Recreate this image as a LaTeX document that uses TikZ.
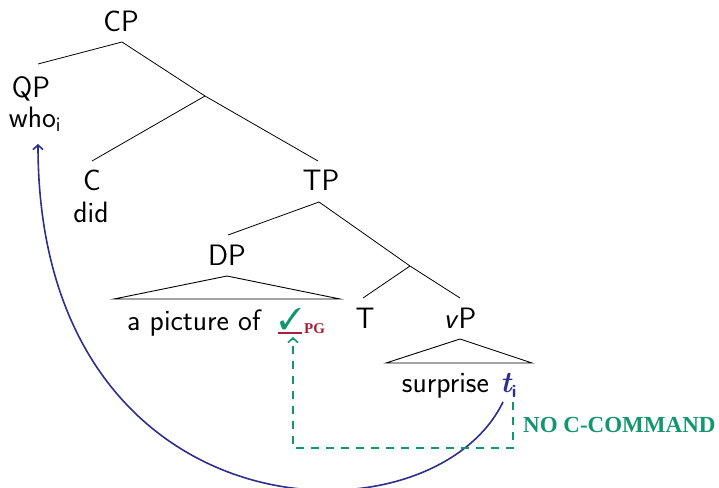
\documentclass[tikz,border=0pt]{standalone}
\usepackage{fontspec}
\usepackage{pifont}
\usetikzlibrary{arrows.meta}
\newfontfamily\libserif{Liberation Serif}
\definecolor{arcblue}{RGB}{44,47,140}
\definecolor{ccgreen}{RGB}{18,150,112}
\definecolor{pgred}{RGB}{168,32,58}
\begin{document}
\begin{tikzpicture}[x=1pt,y=-1pt,
  lab/.style={font=\sffamily\fontsize{29.5}{32}\selectfont, inner sep=0pt, anchor=base},
  branch/.style={line width=0.8pt},
  tri/.style={line width=0.9pt},
  movearc/.style={draw=arcblue, line width=1.6pt, -{Straight Barb[length=4.5pt,width=10pt]}},
  cclink/.style={draw=ccgreen, line width=1.6pt, dash pattern=on 8pt off 7pt, -{Straight Barb[length=4.5pt,width=10pt]}},
  ccnote/.style={font=\libserif\bfseries\fontsize{23}{23}\selectfont, text=ccgreen, inner sep=0pt, anchor=west}]
\useasboundingbox (0,0) rectangle (719,487);

% labels
\node[lab] (CP) at (121,32) {CP};
\node[lab] (QP) at (31,97) {QP};
\node[lab] (who) at (35,127) {who\textsubscript{i}};
\node[lab] (C) at (92,190) {C};
\node[lab] (did) at (91,222) {did};
\node[lab] (TP) at (321,190) {TP};
\node[lab] (DP) at (227,265) {DP};
\node[lab] (T) at (365,328) {T};
\node[lab] (vP) at (460,328) {\textit{v}P};
\node[lab, anchor=base west] (phrase) at (127,330) {a picture of};
\node[inner sep=0pt, anchor=base west, text=ccgreen, font=\fontsize{30}{30}\selectfont] (gap) at (279,329) {\ding{51}};
\node[inner sep=0pt, anchor=base west, text=pgred, font=\libserif\bfseries\fontsize{15}{15}\selectfont] (pg) at (304,333) {PG};
\node[lab, anchor=base east] (surprise) at (489,392) {surprise};
\node[inner sep=0pt, anchor=base west, text=arcblue, font=\fontsize{30}{30}\selectfont] (trace) at (500,392) {\rmfamily\bfseries\itshape t\sffamily\upshape\fontsize{18}{18}\selectfont\raisebox{-5pt}{i}};
\node[ccnote] (note) at (523,424.5) {NO C-COMMAND};

% junction and attachment points
\coordinate (cpB) at (122,42);
\coordinate (qpT) at (38,64);
\coordinate (cbar) at (205,96);
\coordinate (cT) at (92,161);
\coordinate (tpT) at (318,161);
\coordinate (tpB) at (319,202);
\coordinate (dpT) at (228,235);
\coordinate (tbar) at (410,266);
\coordinate (tT) at (363,298);
\coordinate (vpT) at (460,298);
\coordinate (dpA) at (227,276);
\coordinate (dpL) at (114,299);
\coordinate (dpR) at (340,299);
\coordinate (vpA) at (460,339);
\coordinate (vpL) at (386,363);
\coordinate (vpR) at (532,363);

% tree branches
\draw[branch] (cpB) -- (qpT);
\draw[branch] (cpB) -- (cbar) -- (tpT);
\draw[branch] (cbar) -- (cT);
\draw[branch] (tpB) -- (dpT);
\draw[branch] (tpB) -- (tbar) -- (vpT);
\draw[branch] (tbar) -- (tT);
\draw[tri] (dpA) -- (dpL) -- (dpR) -- cycle;
\draw[tri] (vpA) -- (vpL) -- (vpR) -- cycle;

% gap underline
\coordinate (gapL) at (278,333);
\coordinate (gapR) at (302,333);
\draw[pgred, line width=1.2pt] (gapL) -- (gapR);

% movement arc
\coordinate (tfootb) at (503,402);
\coordinate (whotip) at (38,144);
\draw[movearc] (tfootb) .. controls (430,552) and (38,538) .. (whotip);

% c-command link
\coordinate (tfoot) at (513,402);
\coordinate (low) at (0,448);
\coordinate (gaptip) at (293,337);
\draw[cclink] (tfoot) -- (tfoot |- low) -| (gaptip);
\end{tikzpicture}
\end{document}
